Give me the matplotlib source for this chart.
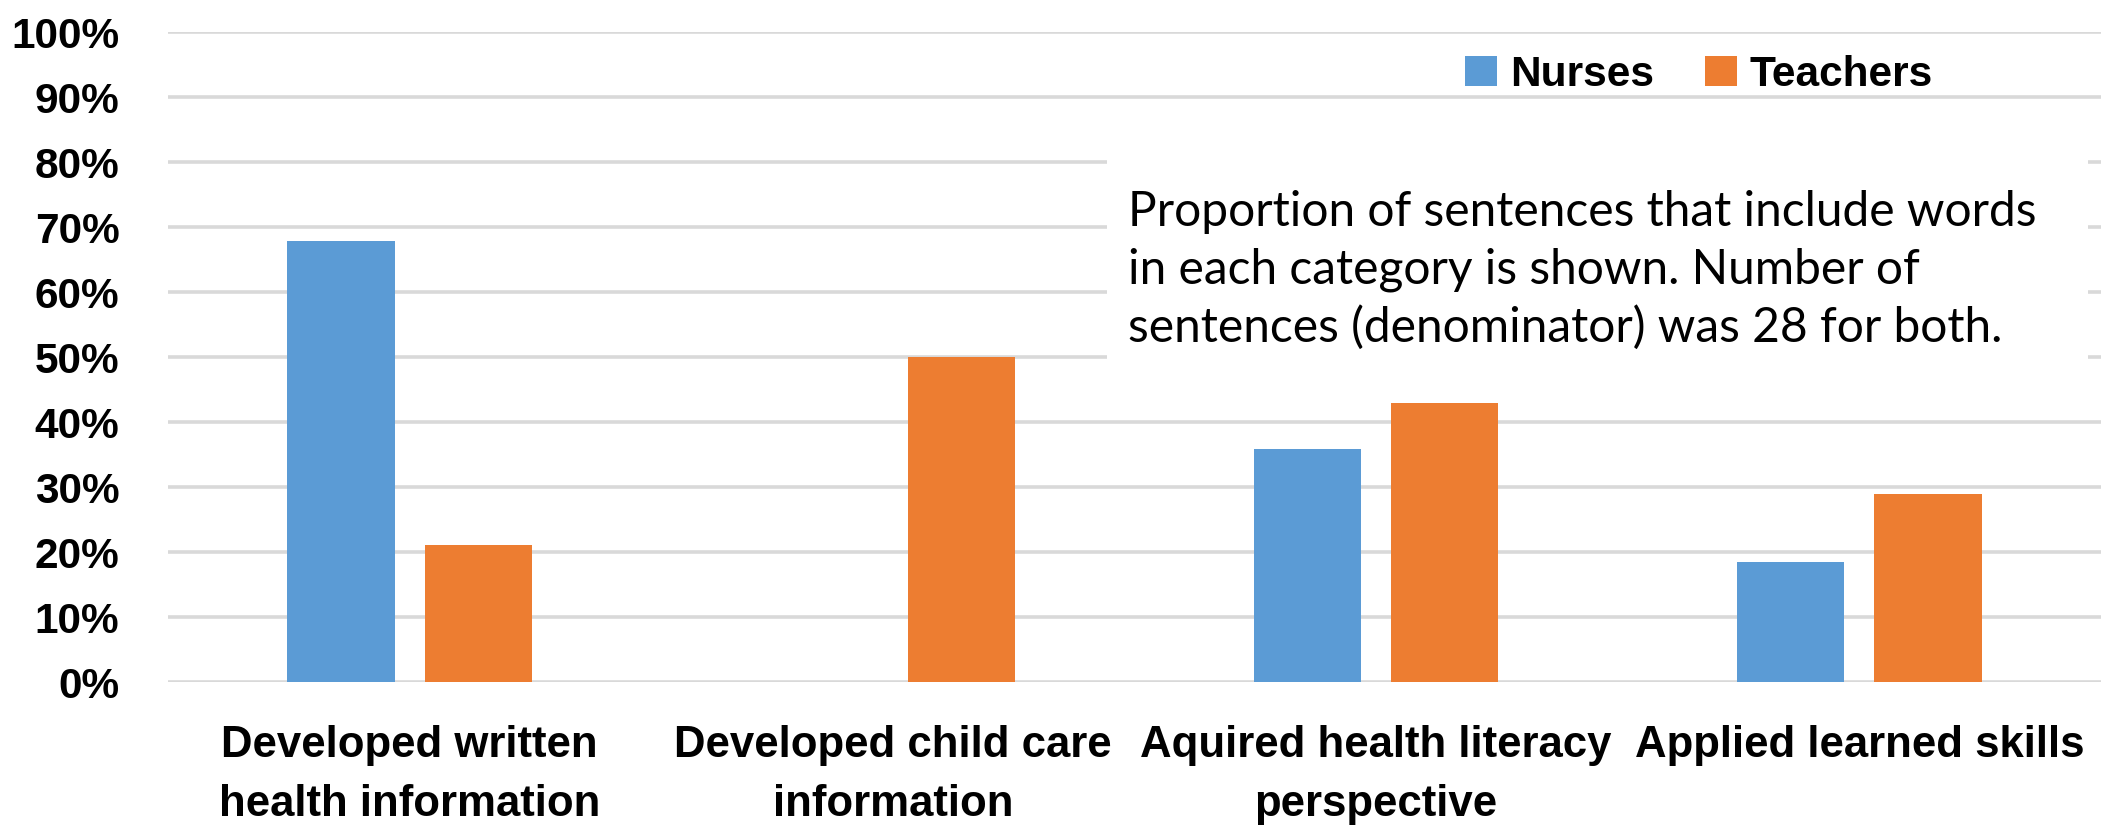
import matplotlib
matplotlib.use('Agg')
import matplotlib.pyplot as plt
import numpy as np
from matplotlib.patches import Rectangle

# Data (percent of sentences)
categories = ["Developed written\nhealth information",
              "Developed child care\ninformation",
              "Aquired health literacy\nperspective",
              "Applied learned skills"]
nurses = [67.9, 0.0, 35.8, 18.5]
teachers = [21.1, 50.0, 43.0, 29.0]
yticks = [0, 10, 20, 30, 40, 50, 60, 70, 80, 90, 100]
note = ("Proportion of sentences that include words\n"
        "in each category is shown. Number of\n"
        "sentences (denominator) was 28 for both.")

blue = '#5b9bd5'
orange = '#ed7d31'
grid = '#d9d9d9'

plt.rcParams['font.family'] = ['Liberation Sans', 'DejaVu Sans']

W, H = 2105, 830
fig = plt.figure(figsize=(W / 100, H / 100), dpi=100)
ax = fig.add_axes([168 / W, 1 - 682 / H, (2101 - 168) / W, (682 - 32) / H])

x = np.arange(len(categories))
width = 0.222
off = 0.142
ax.bar(x - off, nurses, width, color=blue, label='Nurses', zorder=1)
ax.bar(x + off, teachers, width, color=orange, label='Teachers', zorder=1)

ax.set_xlim(-0.5, len(categories) - 0.5)
ax.set_ylim(0, 100)
ax.set_yticks(yticks)
ax.set_yticklabels([f'{t}%' for t in yticks])
ax.set_xticks(x)
ax.set_xticklabels(categories)
ax.tick_params(axis='y', length=0, labelsize=30.5, pad=35)
ax.tick_params(axis='x', length=0, labelsize=31.5, pad=31)
for lbl in ax.get_xticklabels() + ax.get_yticklabels():
    lbl.set_fontweight('bold')
for lbl in ax.get_xticklabels():
    lbl.set_linespacing(1.55)
for s in ax.spines.values():
    s.set_visible(False)
ax.set_axisbelow(True)
ax.yaxis.grid(True, color=grid, linewidth=2.6)

# white box behind the note
ax.add_patch(Rectangle((1107 / W, 1 - 370 / H), (2088 - 1107) / W, (370 - 160) / H,
                       transform=fig.transFigure, facecolor='white',
                       edgecolor='none', zorder=0.8, clip_on=False))
fig.text(1128 / W, 1 - 190 / H, note, fontsize=34.5, va='top', ha='left',
         family=['Lato', 'DejaVu Sans'], linespacing=1.37)

leg = ax.legend(loc='center', bbox_to_anchor=(1699 / W, 1 - 75 / H),
                bbox_transform=fig.transFigure, ncol=2, frameon=False,
                prop={'size': 30.5, 'weight': 'bold'}, handlelength=0.75,
                handleheight=0.7, handletextpad=0.3, columnspacing=1.2)

fig.savefig('out.png', dpi=100)
